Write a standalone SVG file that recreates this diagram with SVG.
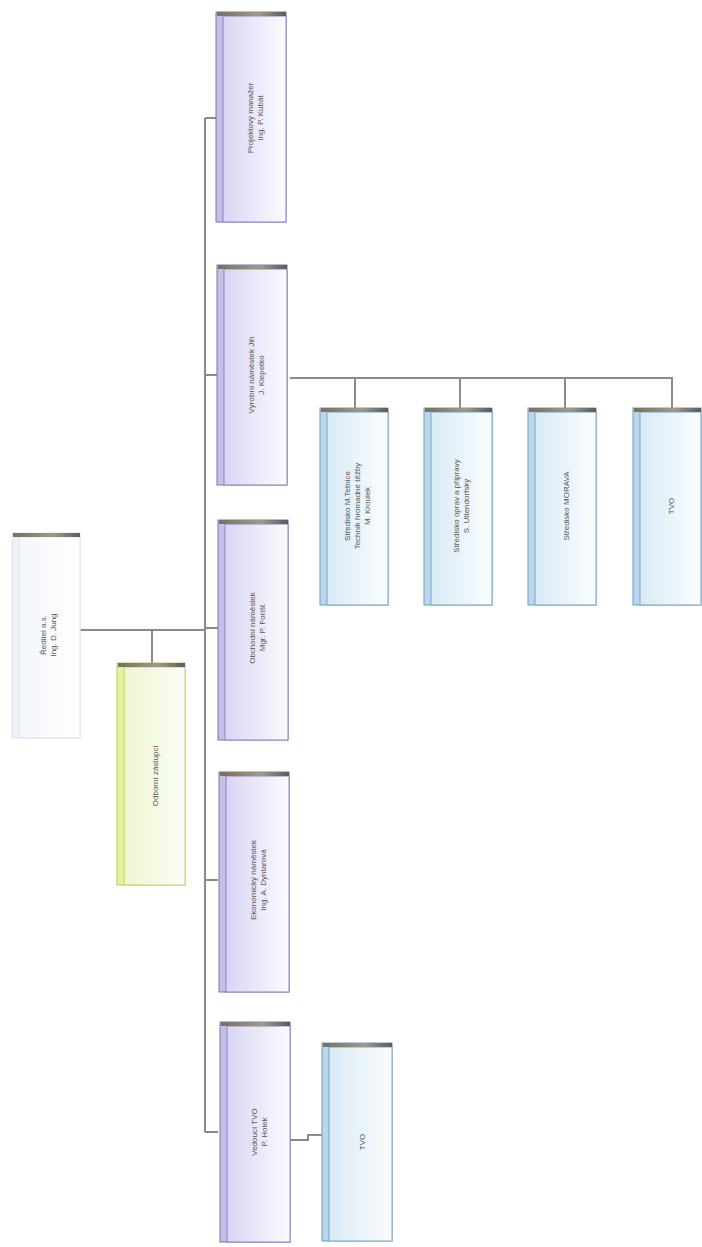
<svg xmlns="http://www.w3.org/2000/svg" width="702" height="1247" viewBox="0 0 702 1247">
<defs>
<linearGradient id="gP" x1="0" y1="0" x2="1" y2="0"><stop offset="0" stop-color="#d9d5f3"/><stop offset="1" stop-color="#fbfbff"/></linearGradient>
<linearGradient id="gB" x1="0" y1="0" x2="1" y2="0"><stop offset="0" stop-color="#d8eaf5"/><stop offset="1" stop-color="#fbfdff"/></linearGradient>
<linearGradient id="gY" x1="0" y1="0" x2="1" y2="0"><stop offset="0" stop-color="#eef6d0"/><stop offset="1" stop-color="#fbfdf6"/></linearGradient>
<linearGradient id="gW" x1="0" y1="0" x2="1" y2="0"><stop offset="0" stop-color="#f3f6fb"/><stop offset="1" stop-color="#ffffff"/></linearGradient>
<linearGradient id="gTop" x1="0" y1="0" x2="1" y2="0"><stop offset="0" stop-color="#77705f"/><stop offset="0.6" stop-color="#a09a8c"/><stop offset="1" stop-color="#5c5a60"/></linearGradient>
</defs>
<style>
.ln{fill:none;stroke:#8a8a8a;stroke-width:2}
.t{font-family:"Liberation Sans",Arial,sans-serif;font-size:8px;fill:#555;text-anchor:middle}
.p .face{fill:url(#gP);stroke:#8a84c0;stroke-width:1}
.p .side{fill:#c4bfe6;stroke:#7b75b5;stroke-width:1}
.b .face{fill:url(#gB);stroke:#7aa6c6;stroke-width:1}
.b .side{fill:#b9d6ec;stroke:#6f9cc0;stroke-width:1}
.y .face{fill:url(#gY);stroke:#c2d46a;stroke-width:1}
.y .side{fill:#e4f29a;stroke:#b8cc58;stroke-width:1}
.w .face{fill:url(#gW);stroke:#dde3ee;stroke-width:1}
.w .side{fill:#eef2f8;stroke:#dde3ee;stroke-width:1}
.top{fill:url(#gTop)}
</style>
<g id="connectors">
<polyline class="ln" points="80,630 205,630"/>
<polyline class="ln" points="152,630 152,665"/>
<polyline class="ln" points="205,118 205,1132"/>
<polyline class="ln" points="205,118 218,118"/>
<polyline class="ln" points="205,375 218,375"/>
<polyline class="ln" points="205,628 218,628"/>
<polyline class="ln" points="205,880 218,880"/>
<polyline class="ln" points="205,1132 218,1132"/>
<polyline class="ln" points="290,378 672,378 672,410"/>
<polyline class="ln" points="355,378 355,410"/>
<polyline class="ln" points="460,378 460,410"/>
<polyline class="ln" points="565,378 565,410"/>
<polyline class="ln" points="290,1140 308,1140 308,1135 322,1135"/>
</g>
<g id="n-reditel" class="w">
<rect class="side" x="12" y="533" width="68" height="205"/>
<rect class="face" x="19" y="537" width="61" height="201"/>
<rect class="top" x="13" y="533" width="67" height="4"/>
<text class="t" transform="translate(48,635) rotate(-90)"><tspan x="0" y="-2">Ředitel a.s.</tspan><tspan x="0" y="8">Ing. D. Jung</tspan></text>
</g>
<g id="n-odborni" class="y">
<rect class="side" x="117" y="663" width="68" height="222"/>
<rect class="face" x="124" y="667" width="61" height="218"/>
<rect class="top" x="118" y="663" width="67" height="4"/>
<text class="t" transform="translate(155,776) rotate(-90)"><tspan x="0" y="3">Odborní zástupci</tspan></text>
</g>
<g id="n-projekt" class="p">
<rect class="side" x="216" y="12" width="70" height="210"/>
<rect class="face" x="223" y="16" width="63" height="206"/>
<rect class="top" x="217" y="12" width="69" height="4"/>
<text class="t" transform="translate(255,118) rotate(-90)"><tspan x="0" y="-2">Projektový manažer</tspan><tspan x="0" y="8">Ing. P. Kubát</tspan></text>
</g>
<g id="n-vyrobni" class="p">
<rect class="side" x="217" y="265" width="70" height="220"/>
<rect class="face" x="224" y="269" width="63" height="216"/>
<rect class="top" x="218" y="265" width="69" height="4"/>
<text class="t" transform="translate(256,375) rotate(-90)"><tspan x="0" y="-2">Výrobní náměstek Jih</tspan><tspan x="0" y="8">J. Klepetko</tspan></text>
</g>
<g id="n-obchodni" class="p">
<rect class="side" x="218" y="520" width="70" height="220"/>
<rect class="face" x="225" y="524" width="63" height="216"/>
<rect class="top" x="219" y="520" width="69" height="4"/>
<text class="t" transform="translate(257,628) rotate(-90)"><tspan x="0" y="-2">Obchodní náměstek</tspan><tspan x="0" y="8">Mgr. P. Forišt</tspan></text>
</g>
<g id="n-ekonom" class="p">
<rect class="side" x="219" y="772" width="70" height="220"/>
<rect class="face" x="226" y="776" width="63" height="216"/>
<rect class="top" x="220" y="772" width="69" height="4"/>
<text class="t" transform="translate(258,880) rotate(-90)"><tspan x="0" y="-2">Ekonomický náměstek</tspan><tspan x="0" y="8">Ing. A. Dyntarová</tspan></text>
</g>
<g id="n-vedouci" class="p">
<rect class="side" x="220" y="1022" width="70" height="220"/>
<rect class="face" x="227" y="1026" width="63" height="216"/>
<rect class="top" x="221" y="1022" width="69" height="4"/>
<text class="t" transform="translate(259,1132) rotate(-90)"><tspan x="0" y="-2">Vedoucí TVO</tspan><tspan x="0" y="8">P. Holek</tspan></text>
</g>
<g id="n-stred1" class="b">
<rect class="side" x="320" y="408" width="68" height="197"/>
<rect class="face" x="327" y="412" width="61" height="193"/>
<rect class="top" x="321" y="408" width="67" height="4"/>
<text class="t" transform="translate(357,506) rotate(-90)"><tspan x="0" y="-7">Středisko M.Tetnice</tspan><tspan x="0" y="3">Technik hromadné těžby</tspan><tspan x="0" y="13">M. Kroulek</tspan></text>
</g>
<g id="n-stred2" class="b">
<rect class="side" x="424" y="408" width="68" height="197"/>
<rect class="face" x="431" y="412" width="61" height="193"/>
<rect class="top" x="425" y="408" width="67" height="4"/>
<text class="t" transform="translate(461,506) rotate(-90)"><tspan x="0" y="-2">Středisko oprav a přípravy</tspan><tspan x="0" y="8">S. Uttendorfský</tspan></text>
</g>
<g id="n-morava" class="b">
<rect class="side" x="528" y="408" width="68" height="197"/>
<rect class="face" x="535" y="412" width="61" height="193"/>
<rect class="top" x="529" y="408" width="67" height="4"/>
<text class="t" transform="translate(566,506) rotate(-90)"><tspan x="0" y="3">Středisko MORAVA</tspan></text>
</g>
<g id="n-tvo1" class="b">
<rect class="side" x="633" y="408" width="68" height="197"/>
<rect class="face" x="640" y="412" width="61" height="193"/>
<rect class="top" x="634" y="408" width="67" height="4"/>
<text class="t" transform="translate(671,506) rotate(-90)"><tspan x="0" y="3">TVO</tspan></text>
</g>
<g id="n-tvo2" class="b">
<rect class="side" x="322" y="1043" width="70" height="198"/>
<rect class="face" x="329" y="1047" width="63" height="194"/>
<rect class="top" x="323" y="1043" width="69" height="4"/>
<text class="t" transform="translate(362,1142) rotate(-90)"><tspan x="0" y="3">TVO</tspan></text>
</g>
</svg>
